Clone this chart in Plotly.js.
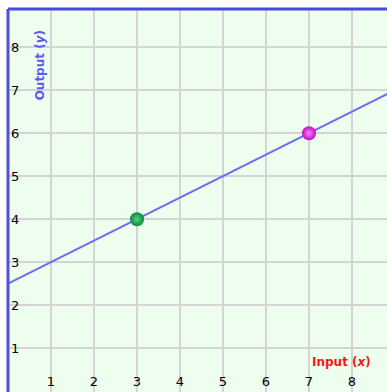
<!DOCTYPE html>
<html><head><meta charset="utf-8">
<script src="https://cdn.plot.ly/plotly-3.0.1.min.js"></script>
<style>html,body{margin:0;padding:0;background:#fff}#chart{width:387px;height:392px}</style>
</head><body><div id="chart"></div>
<script>
const lineX = [0, 8.9];
const lineY = [2.5, 6.95];
const pointX = [3, 7];
const pointY = [4, 6];
const pointColors = ['#0c8a3a', '#c010c0'];
const tickVals = [1, 2, 3, 4, 5, 6, 7, 8];
const tickText = ['1', '2', '3', '4', '5', '6', '7', '8'];

const traces = [
  {x: lineX, y: lineY, mode: 'lines', line: {color: '#6c6cf5', width: 2}, hoverinfo: 'skip'},
  {x: pointX, y: pointY, mode: 'markers',
   marker: {size: 14, color: pointColors, line: {width: 0},
            gradient: {type: 'radial', color: ['#50d080', '#ff80ff']}}}
];

const layout = {
  width: 387, height: 392,
  margin: {l: 8, r: 0, t: 9, b: 0},
  paper_bgcolor: '#ffffff',
  plot_bgcolor: '#eefeee',
  showlegend: false,
  font: {family: 'DejaVu Sans', size: 13, color: '#000'},
  xaxis: {range: [0, 8.814], tickvals: tickVals, ticktext: tickText,
          ticklabelposition: 'inside', ticks: '', showgrid: true, gridcolor: '#d4d4d4', gridwidth: 2,
          zeroline: false, showline: false, fixedrange: true, tickfont: {color: '#000', size: 13}},
  yaxis: {range: [-0.02, 8.89], tickvals: tickVals, ticktext: tickText,
          ticklabelposition: 'inside', ticks: '', showgrid: true, gridcolor: '#d4d4d4', gridwidth: 2,
          zeroline: false, showline: false, fixedrange: true, tickfont: {color: '#000', size: 13}},
  shapes: [
    {type: 'line', xref: 'paper', yref: 'paper', x0: 0, x1: 1, y0: 1, y1: 1, line: {color: '#4848e0', width: 3}},
    {type: 'line', xref: 'paper', yref: 'paper', x0: 0, x1: 0, y0: 0, y1: 1, line: {color: '#5050d8', width: 3}}
  ],
  annotations: [
    {text: '<b>Output (<i>y</i>)</b>', xref: 'paper', yref: 'paper', x: 0.085, y: 0.95,
     xanchor: 'center', yanchor: 'top', textangle: -90, showarrow: false,
     font: {family: 'DejaVu Sans', size: 12, color: '#5a5af0'}},
    {text: '<b>Input (<i>x</i>)</b>', xref: 'paper', yref: 'paper', x: 0.962, y: 0.078,
     xanchor: 'right', yanchor: 'middle', showarrow: false,
     font: {family: 'DejaVu Sans', size: 12, color: '#f01818'}}
  ]
};
Plotly.newPlot('chart', traces, layout, {displayModeBar: false, staticPlot: true});
</script></body></html>
